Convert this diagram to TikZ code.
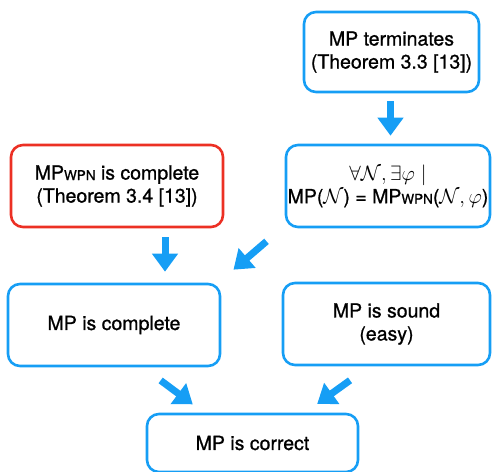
\documentclass[tikz,border=0pt]{standalone}
\usepackage{fontspec}
\setmainfont{TeX Gyre Heros}
\newfontfamily\medfont{TeX Gyre Heros}[FakeBold=0.9]
\usepackage{amsmath}
\usetikzlibrary{arrows.meta}
\definecolor{mpblue}{RGB}{22,158,245}
\definecolor{mpred}{RGB}{236,48,36}
\tikzset{
	box/.style={draw=mpblue, line width=2.6pt, rounded corners=12pt, align=center, inner sep=0pt,
		font=\medfont\fontsize{19.5}{23}\selectfont},
	redbox/.style={box, draw=mpred},
	flow/.style={mpblue, line width=7pt, -{Triangle[length=18pt,width=25pt]}}
}
\newcommand{\wpn}{\raisebox{-0.5pt}{\fontsize{13.5}{13.5}\selectfont WPN}}
\begin{document}
\begin{tikzpicture}[x=1pt,y=-1pt]
		\useasboundingbox (0,0) rectangle (492,471);
		\node[box, minimum width=175pt, minimum height=80pt] (terminates) at (391.5,52) {MP terminates\\(Theorem 3.3 [13])};
		\node[redbox, minimum width=212pt, minimum height=82pt] (wpncomplete) at (117,186) {MP\wpn{} is complete\\(Theorem 3.4 [13])};
		\node[box, minimum width=204pt, minimum height=82pt] (equiv) at (388,186) {$\forall\mathcal{N},\exists\varphi\mid$\\MP($\mathcal{N}$) = MP\wpn($\mathcal{N},\varphi$)};
		\node[box, minimum width=212pt, minimum height=82pt] (complete) at (114,325) {MP is complete};
		\node[box, minimum width=207pt, minimum height=82pt] (sound) at (386.5,324) {MP is sound\\(easy)};
		\node[box, minimum width=211pt, minimum height=58pt] (correct) at (252.5,443) {MP is correct};
		\draw[flow, shorten <=8pt, shorten >=8pt] ([xshift=-1pt]terminates.south) -- ([xshift=-1pt]terminates.south |- equiv.north);
		\draw[flow, shorten <=9pt, shorten >=11pt] ([xshift=48pt]wpncomplete.south) -- ([xshift=48pt]wpncomplete.south |- complete.north);
		\draw[flow, shorten <=20pt, shorten >=20pt] ([xshift=-3pt]equiv.south west) -- ([xshift=-3pt]complete.north east);
		\draw[flow, shorten <=22pt, shorten >=14pt] ([xshift=29pt]complete.south) -- ([xshift=-48.5pt]correct.north);
		\draw[flow, shorten <=24pt, shorten >=15pt] ([xshift=-17pt]sound.south) -- ([xshift=52.5pt]correct.north);
\end{tikzpicture}
\end{document}
